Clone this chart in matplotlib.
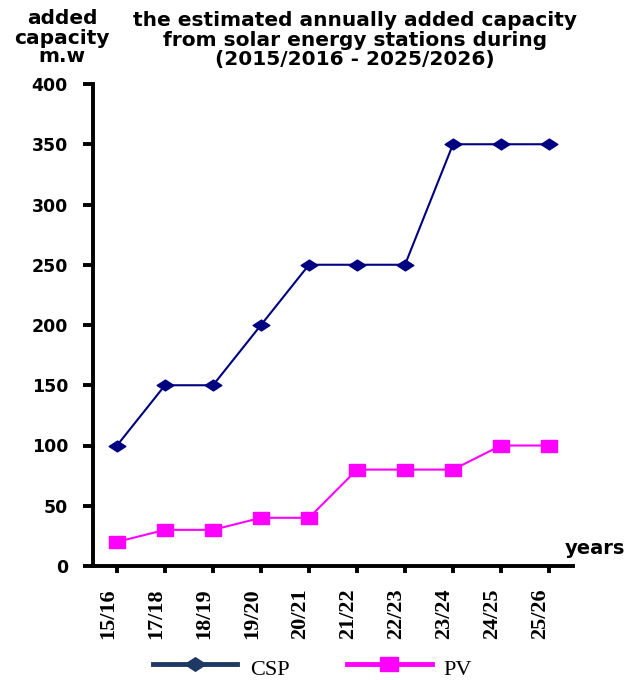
import matplotlib
matplotlib.use("Agg")
import matplotlib.pyplot as plt
from matplotlib.path import Path
from matplotlib.lines import Line2D
from matplotlib.transforms import ScaledTranslation

# Season labels and estimated annually added capacity (MW)
seasons = ["15/16", "17/18", "18/19", "19/20", "20/21",
           "21/22", "22/23", "23/24", "24/25", "25/26"]
csp_mw = [100, 150, 150, 200, 250, 250, 250, 350, 350, 350]
pv_mw = [20, 30, 30, 40, 40, 80, 80, 80, 100, 100]
y_ticks = [0, 50, 100, 150, 200, 250, 300, 350, 400]

W, H = 639, 680
fig = plt.figure(figsize=(W / 100, H / 100), dpi=100)

def fx(px):
    return px / W

def fy(py):
    return 1 - py / H

ax = fig.add_axes([fx(93), fy(566), fx(573) - fx(93), fy(84) - fy(566)])

# flattened diamond and slightly flat square markers
diamond = Path([(-1, 0), (0, 0.65), (1, 0), (0, -0.65), (-1, 0)],
               [Path.MOVETO, Path.LINETO, Path.LINETO, Path.LINETO, Path.CLOSEPOLY])
square = Path([(-1, -0.77), (1, -0.77), (1, 0.77), (-1, 0.77), (-1, -0.77)],
              [Path.MOVETO, Path.LINETO, Path.LINETO, Path.LINETO, Path.CLOSEPOLY])

navy = "#000080"
magenta = "#FF00FF"
x = list(range(len(seasons)))

ax.plot(x, csp_mw, color=navy, lw=1.5, marker=diamond, ms=12,
        mfc=navy, mec=navy, zorder=3)
ax.plot(x, pv_mw, color=magenta, lw=1.5, marker=square, ms=11.5,
        mfc=magenta, mec=magenta, zorder=3)

ax.set_xlim(-0.5, len(seasons) - 0.5)
ax.set_ylim(0, 400)

for s in ("top", "right"):
    ax.spines[s].set_visible(False)
for s in ("left", "bottom"):
    ax.spines[s].set_linewidth(2.8)
    ax.spines[s].set_color("black")

ax.set_yticks(y_ticks)
ax.set_yticklabels([str(v) for v in y_ticks], fontfamily="DejaVu Sans",
                   fontweight="bold", fontsize=12.5)
ax.tick_params(axis="y", direction="out", length=7, width=2.8, pad=11)

ax.set_xticks(x)
ax.set_xticklabels(seasons, rotation=90, fontfamily="Liberation Serif",
                   fontweight="bold", fontsize=16, va="top", ha="center")
ax.tick_params(axis="x", direction="out", length=5, width=2.8, pad=11)
offset = ScaledTranslation(-9 / 100, 0, fig.dpi_scale_trans)
for lbl in ax.get_xticklabels():
    lbl.set_transform(lbl.get_transform() + offset)

# axis captions and title
fig.text(fx(62), fy(38), "added\ncapacity\nm.w", ha="center", va="center",
         fontfamily="DejaVu Sans", fontweight="bold", fontsize=14.5,
         linespacing=1.0)
fig.text(fx(355), fy(40),
         "the estimated annually added capacity\n"
         "from solar energy stations during\n"
         "(2015/2016 - 2025/2026)",
         ha="center", va="center", fontfamily="DejaVu Sans",
         fontweight="bold", fontsize=14.5, linespacing=1.05)
fig.text(fx(595), fy(548), "years", ha="center", va="center",
         fontfamily="DejaVu Sans", fontweight="bold", fontsize=14)

# legend below the axis
handles = [
    Line2D([], [], color="#1F3864", lw=3.5, marker=diamond, ms=15,
           mfc="#1F3864", mec="#1F3864"),
    Line2D([], [], color=magenta, lw=3.5, marker=square, ms=13,
           mfc=magenta, mec=magenta),
]
leg = fig.legend(handles, ["CSP", "PV"], loc="center left",
                 bbox_to_anchor=(fx(153), fy(667)), ncol=2, frameon=False,
                 prop={"family": "Liberation Serif", "size": 16},
                 handlelength=3.8, handletextpad=0.55, columnspacing=2.6,
                 borderpad=0, borderaxespad=0)
text_drop = ScaledTranslation(0, -3 / 100, fig.dpi_scale_trans)
for t in leg.get_texts():
    t.set_transform(t.get_transform() + text_drop)

fig.savefig("out.png", dpi=100)
